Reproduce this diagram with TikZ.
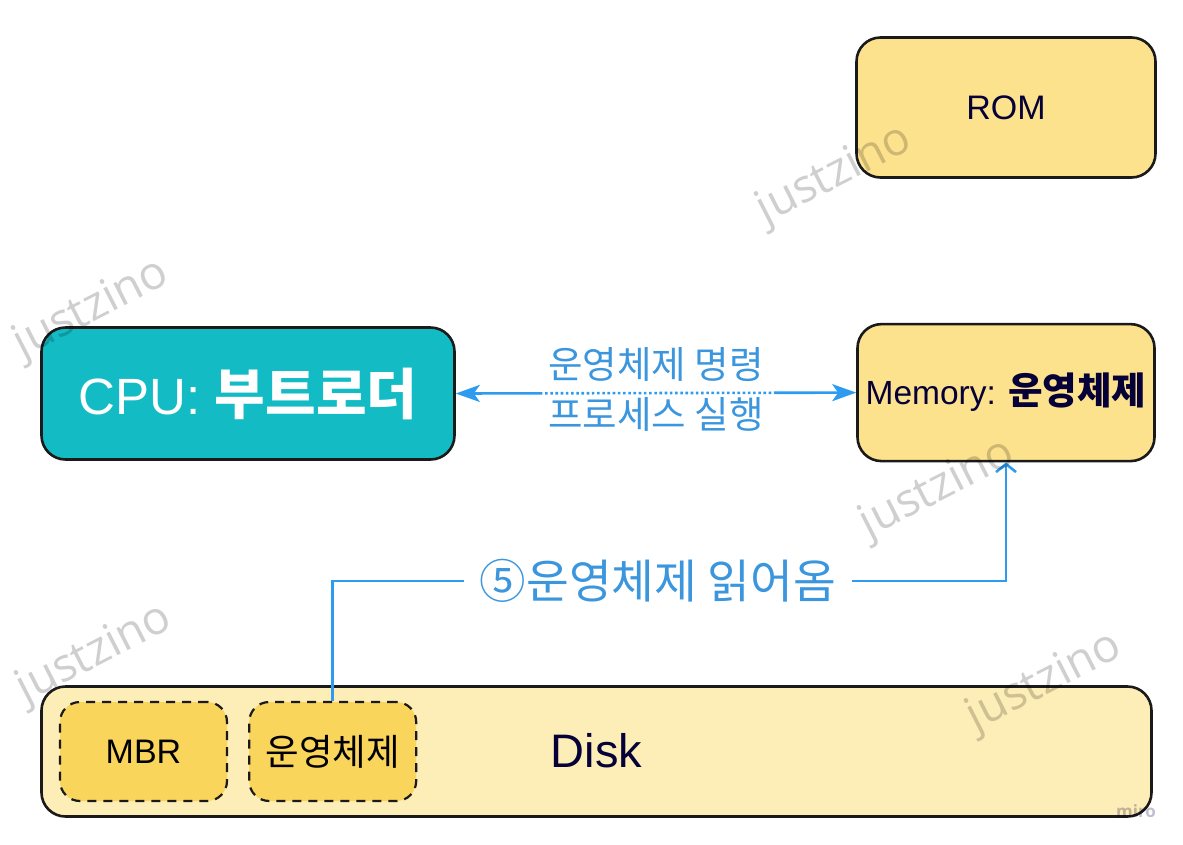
\documentclass[tikz,border=0pt]{standalone}
\usepackage{fontspec}
\setmainfont{Liberation Sans}
\newfontfamily\kr{Noto Sans CJK KR}
\newfontfamily\wmfont{Open Sans}
\usetikzlibrary{arrows.meta}
\usetikzlibrary{positioning}

\definecolor{memyellow}{HTML}{FDE28D}
\definecolor{diskyellow}{HTML}{FDEDB6}
\definecolor{partyellow}{HTML}{FAD55C}
\definecolor{cputeal}{HTML}{13BCC4}
\definecolor{boxline}{HTML}{1A1A1A}
\definecolor{miroink}{HTML}{050038}
\definecolor{linkblue}{HTML}{2D9BF0}
\definecolor{labelblue}{HTML}{3B96DD}

\begin{document}
\begin{tikzpicture}[x=1pt, y=-1pt, node distance=18pt,
			block/.style={
					rectangle,
					draw=boxline,
					line width=2.6pt,
					rounded corners=24pt,
					align=center,
					inner sep=0pt,
					text=miroink
				},
			part/.style={
					rectangle,
					draw=boxline,
					line width=2.2pt,
					dash pattern=on 9pt off 7pt,
					rounded corners=20pt,
					fill=partyellow,
					minimum width=167pt,
					minimum height=99pt,
					text=black
				},
			link/.style={draw=linkblue, line width=2.6pt},
			lbl/.style={text=labelblue, font=\kr\fontsize{37.5}{44}\selectfont},
			wmark/.style={font=\wmfont\fontsize{46}{54}\selectfont, text=black, text opacity=0.19, rotate=27}
		]
		\useasboundingbox (0,0) rectangle (1183,844);
		% Place nodes
		\node [block, fill=memyellow, minimum width=299pt, minimum height=140pt] (rom) at (1006,107.5) {\fontsize{34}{40}\selectfont ROM};
		\node [block, fill=memyellow, minimum width=297pt, minimum height=137pt, below=144pt of rom] (mem) {\fontsize{33.5}{40}\selectfont Memory: {\kr\bfseries\fontsize{37.5}{42}\selectfont 운영체제}};
		\node [block, fill=cputeal, text=white, minimum width=413pt, minimum height=132pt] (cpu) at (248,393.5) {\fontsize{51}{58}\selectfont CPU: {\kr\bfseries\fontsize{55}{60}\selectfont 부트로더}};
		\node [block, fill=diskyellow, minimum width=1110pt, minimum height=130pt] (disk) at (596.5,751.5) {\fontsize{47}{54}\selectfont\raisebox{3pt}{Disk}};
		\node [part] (mbr) at (143.5,751.5) {\fontsize{34}{40}\selectfont MBR};
		\node [part, right=20pt of mbr] (os) {\kr\fontsize{36.5}{42}\selectfont 운영체제};
		% Draw edges
		\path (cpu.east) -- (mem.west) coordinate[pos=0.21] (dotl) coordinate[pos=0.8] (dotr) coordinate[midway] (cmdmid);
		\draw [link, {Stealth[length=24pt, width=17pt, inset=6pt]}-] (cpu.east) -- (dotl);
		\draw [link, dash pattern=on 2.6pt off 2.6pt] (dotl) -- (dotr);
		\draw [link, -{Stealth[length=24pt, width=17pt, inset=6pt]}] (dotr) -- (mem.west);
		\node [lbl, above=8pt of cmdmid] (cmd) {운영체제 명령};
		\node [lbl, below=1pt of cmdmid] (exec) {프로세스 실행};
		\node [lbl, font=\kr\fontsize{46.5}{54}\selectfont, inner xsep=16pt] (rd) at (658,581) {⑤운영체제 읽어옴};
		\draw [link] (os.north) |- (rd.west);
		\draw [link, -{Straight Barb[length=8pt, width=20pt]}] (rd.east) -| (mem.south);
		% watermarks
		\foreach \wx/\wy in {835/176, 92/310, 938/490, 95/655, 1045/683}
			\node [wmark] (wm-\wx) at (\wx,\wy) {justzino};
		\node [font=\wmfont\bfseries\fontsize{17}{20}\selectfont, text=miroink, text opacity=0.25] (miro) at (1136,811) {miro};
	\end{tikzpicture}
\end{document}
